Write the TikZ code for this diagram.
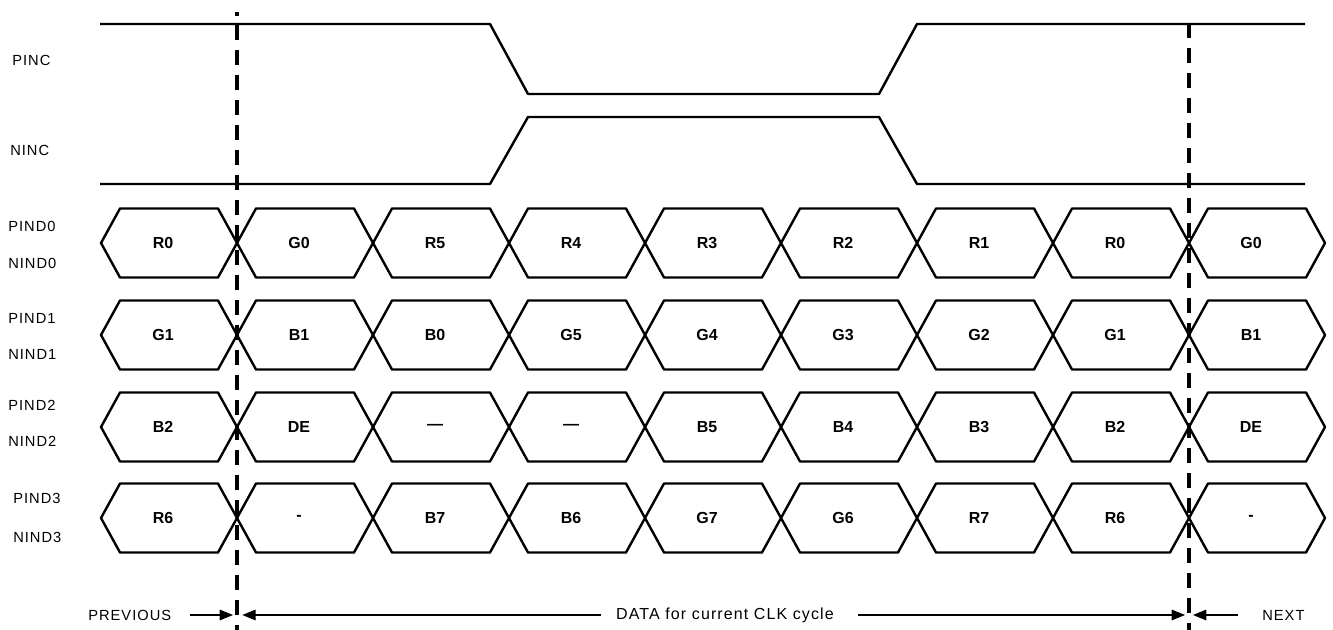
\documentclass[tikz,border=0pt]{standalone}
\usepackage{fontspec}
\setmainfont{Liberation Sans}
\newfontfamily\spaced[LetterSpace=7]{Liberation Sans}
\usetikzlibrary{arrows.meta}

\tikzset{
    wave/.style={line width=1.8pt, line join=round},
    cut/.style={line width=2.8pt, dash pattern=on 11.25pt off 7.5pt},
    lbl/.style={anchor=west, inner sep=0pt, font=\spaced\fontsize{11}{13}\selectfont},
    bit/.style={inner sep=0pt, font=\bfseries\fontsize{12}{14}\selectfont},
    arr/.style={line width=0.8pt, -{Triangle[length=10pt,width=8pt]}},
}

\begin{document}
\begin{tikzpicture}[x=0.75pt,y=-0.75pt]
        \useasboundingbox (0,0) rectangle (1333,630);

        \draw[wave] (100,24) -- (490,24) -- (528,94) -- (879,94) -- (917,24) -- (1305,24);% PINC
        \draw[wave] (100,184) -- (490,184) -- (528,117) -- (879,117) -- (917,184) -- (1305,184);% NINC

        \node[lbl] (pinc) at (12,60) {PINC};
        \node[lbl] (ninc) at (10,150) {NINC};

        % one bus per pair of data lines
        \foreach \row/\ym/\cells in {0/243/{R0,G0,R5,R4,R3,R2,R1,R0,G0},
                                     1/335/{G1,B1,B0,G5,G4,G3,G2,G1,B1},
                                     2/427/{B2,DE,---,---,B5,B4,B3,B2,DE},
                                     3/518/{R6,-,B7,B6,G7,G6,R7,R6,-}}{
            \foreach \c [count=\i from 0] in \cells {
                \pgfmathsetmacro\xa{101+136*\i}
                \pgfmathsetmacro\xb{\xa+136}
                \draw[wave] (\xa,\ym) -- (\xa+19,\ym-34.5) -- (\xb-19,\ym-34.5)
                    -- (\xb,\ym) -- (\xb-19,\ym+34.5) -- (\xa+19,\ym+34.5) -- cycle;
                \node[bit] (d\row-\i) at (\xa+62,\ym) {\c};
            }
        }

        \node[lbl] (pind0) at (8,226) {PIND0};
        \node[lbl] (nind0) at (8,263) {NIND0};
        \node[lbl] (pind1) at (8,318) {PIND1};
        \node[lbl] (nind1) at (8,354) {NIND1};
        \node[lbl] (pind2) at (8,405) {PIND2};
        \node[lbl] (nind2) at (8,441) {NIND2};
        \node[lbl] (pind3) at (13,498) {PIND3};
        \node[lbl] (nind3) at (13,537) {NIND3};

        % cycle boundaries
        \coordinate (cutLt) at (237,25);
        \coordinate (cutLb) at (237,630);
        \coordinate (cutRt) at (1189,23);
        \coordinate (cutRb) at (1189,630);
        \draw[line width=2.8pt] (237,12) -- (237,16);
        \draw[cut] (cutLt) -- (cutLb);
        \draw[cut] (cutRt) -- (cutRb);

        \coordinate (cutL) at (237,615);
        \coordinate (cutR) at (1189,615);
        \node[lbl] (prev) at (88,615) {PREVIOUS};
        \node[lbl, anchor=center, font=\spaced\fontsize{12}{14}\selectfont] (data) at (725,615) {DATA for current CLK cycle};
        \node[lbl] (next) at (1262,615) {NEXT};

        \draw[arr, shorten <=14pt, shorten >=3pt] (prev) -- (cutL);
        \draw[arr, shorten <=11pt, shorten >=4pt] (data) -- (cutL);
        \draw[arr, shorten <=18pt, shorten >=3pt] (data) -- (cutR);
        \draw[arr, shorten <=18pt, shorten >=3pt] (next) -- (cutR);

    \end{tikzpicture}
\end{document}
